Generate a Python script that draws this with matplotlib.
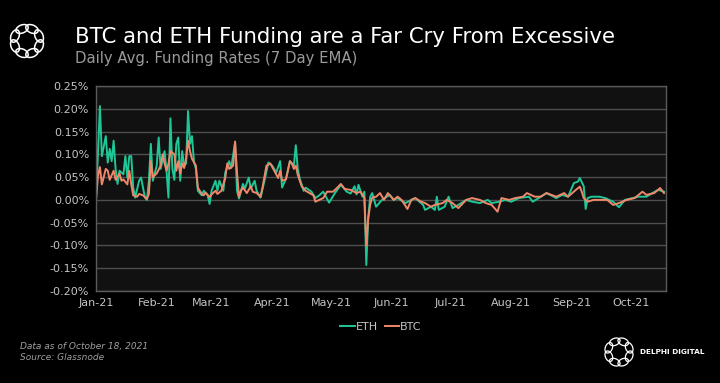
import numpy as np
import pandas as pd
import matplotlib
matplotlib.use("Agg")
import matplotlib.pyplot as plt
import matplotlib.dates as mdates
from matplotlib.patches import Ellipse
from matplotlib.ticker import FuncFormatter

# daily avg funding rate, 7d EMA, in percent
eth_dates = [
    "2021-01-01", "2021-01-03", "2021-01-04", "2021-01-06", "2021-01-07", "2021-01-08",
    "2021-01-09", "2021-01-10", "2021-01-11", "2021-01-12", "2021-01-13", "2021-01-14",
    "2021-01-15", "2021-01-16", "2021-01-17", "2021-01-18", "2021-01-19", "2021-01-20",
    "2021-01-21", "2021-01-23", "2021-01-24", "2021-01-26", "2021-01-27", "2021-01-28",
    "2021-01-29", "2021-01-30", "2021-02-01", "2021-02-02", "2021-02-03", "2021-02-05",
    "2021-02-06", "2021-02-07", "2021-02-08", "2021-02-09", "2021-02-10", "2021-02-11",
    "2021-02-12", "2021-02-13", "2021-02-14", "2021-02-15", "2021-02-16", "2021-02-17",
    "2021-02-18", "2021-02-19", "2021-02-20", "2021-02-21", "2021-02-22", "2021-02-24",
    "2021-02-25", "2021-02-27", "2021-02-28", "2021-03-01", "2021-03-03", "2021-03-04",
    "2021-03-05", "2021-03-07", "2021-03-08", "2021-03-10", "2021-03-11", "2021-03-13",
    "2021-03-14", "2021-03-15", "2021-03-17", "2021-03-18", "2021-03-20", "2021-03-21",
    "2021-03-23", "2021-03-24", "2021-03-26", "2021-03-28", "2021-03-30", "2021-04-01",
    "2021-04-03", "2021-04-05", "2021-04-06", "2021-04-08", "2021-04-10", "2021-04-12",
    "2021-04-13", "2021-04-14", "2021-04-15", "2021-04-17", "2021-04-18", "2021-04-21",
    "2021-04-23", "2021-04-25", "2021-04-27", "2021-04-30", "2021-05-03", "2021-05-06",
    "2021-05-09", "2021-05-11", "2021-05-13", "2021-05-14", "2021-05-15", "2021-05-17",
    "2021-05-18", "2021-05-19", "2021-05-20", "2021-05-21", "2021-05-22", "2021-05-24",
    "2021-05-27", "2021-05-31", "2021-06-02", "2021-06-04", "2021-06-08", "2021-06-11",
    "2021-06-13", "2021-06-17", "2021-06-18", "2021-06-21", "2021-06-23", "2021-06-24",
    "2021-06-25", "2021-06-28", "2021-06-30", "2021-07-02", "2021-07-05", "2021-07-09",
    "2021-07-12", "2021-07-16", "2021-07-20", "2021-07-22", "2021-07-26", "2021-07-29",
    "2021-08-01", "2021-08-05", "2021-08-10", "2021-08-12", "2021-08-15", "2021-08-19",
    "2021-08-24", "2021-08-27", "2021-08-30", "2021-09-02", "2021-09-04", "2021-09-05",
    "2021-09-07", "2021-09-08", "2021-09-09", "2021-09-11", "2021-09-15", "2021-09-18",
    "2021-09-22", "2021-09-25", "2021-09-28", "2021-10-02", "2021-10-05", "2021-10-09",
    "2021-10-12", "2021-10-15", "2021-10-18",
]
eth_rate = [
    0.000, 0.206, 0.096, 0.140, 0.082, 0.112,
    0.085, 0.130, 0.068, 0.035, 0.064, 0.060,
    0.056, 0.096, 0.049, 0.096, 0.096, 0.027,
    0.005, 0.042, 0.049, 0.005, 0.000, 0.042,
    0.123, 0.042, 0.075, 0.137, 0.068, 0.107,
    0.064, 0.005, 0.179, 0.068, 0.044, 0.123,
    0.137, 0.042, 0.107, 0.075, 0.080, 0.195,
    0.123, 0.140, 0.085, 0.068, 0.020, 0.010,
    0.020, 0.010, -0.009, 0.020, 0.042, 0.020,
    0.042, 0.020, 0.060, 0.085, 0.070, 0.126,
    0.020, 0.003, 0.035, 0.025, 0.049, 0.025,
    0.042, 0.020, 0.005, 0.042, 0.082, 0.075,
    0.060, 0.085, 0.027, 0.047, 0.085, 0.075,
    0.120, 0.068, 0.047, 0.020, 0.027, 0.018,
    0.004, 0.010, 0.018, -0.006, 0.015, 0.033,
    0.018, 0.014, 0.030, 0.012, 0.033, 0.007,
    0.018, -0.143, -0.037, 0.007, 0.015, -0.015,
    0.000, 0.011, 0.000, 0.004, -0.007, 0.000,
    0.004, -0.011, -0.022, -0.015, -0.022, 0.007,
    -0.022, -0.015, 0.007, -0.018, -0.011, 0.000,
    -0.004, -0.007, 0.000, -0.007, -0.004, 0.000,
    -0.004, 0.004, 0.007, -0.004, 0.004, 0.015,
    0.004, 0.011, 0.007, 0.037, 0.040, 0.048,
    0.030, -0.020, 0.004, 0.007, 0.007, 0.004,
    -0.004, -0.016, 0.000, 0.004, 0.007, 0.007,
    0.015, 0.022, 0.018,
]

btc_dates = [
    "2021-01-01", "2021-01-02", "2021-01-03", "2021-01-04", "2021-01-06", "2021-01-07",
    "2021-01-08", "2021-01-10", "2021-01-11", "2021-01-13", "2021-01-14", "2021-01-15",
    "2021-01-17", "2021-01-18", "2021-01-19", "2021-01-20", "2021-01-22", "2021-01-23",
    "2021-01-25", "2021-01-27", "2021-01-28", "2021-01-29", "2021-01-30", "2021-02-01",
    "2021-02-03", "2021-02-04", "2021-02-05", "2021-02-06", "2021-02-07", "2021-02-08",
    "2021-02-10", "2021-02-11", "2021-02-12", "2021-02-13", "2021-02-14", "2021-02-15",
    "2021-02-16", "2021-02-17", "2021-02-18", "2021-02-19", "2021-02-21", "2021-02-22",
    "2021-02-24", "2021-02-25", "2021-02-26", "2021-02-28", "2021-03-01", "2021-03-03",
    "2021-03-04", "2021-03-06", "2021-03-08", "2021-03-09", "2021-03-10", "2021-03-12",
    "2021-03-13", "2021-03-14", "2021-03-15", "2021-03-16", "2021-03-17", "2021-03-19",
    "2021-03-21", "2021-03-22", "2021-03-24", "2021-03-26", "2021-03-27", "2021-03-29",
    "2021-03-31", "2021-04-02", "2021-04-04", "2021-04-05", "2021-04-06", "2021-04-08",
    "2021-04-10", "2021-04-11", "2021-04-12", "2021-04-13", "2021-04-14", "2021-04-16",
    "2021-04-18", "2021-04-20", "2021-04-22", "2021-04-23", "2021-04-25", "2021-04-27",
    "2021-04-29", "2021-05-02", "2021-05-04", "2021-05-06", "2021-05-08", "2021-05-11",
    "2021-05-14", "2021-05-16", "2021-05-18", "2021-05-19", "2021-05-20", "2021-05-21",
    "2021-05-22", "2021-05-24", "2021-05-26", "2021-05-28", "2021-05-30", "2021-06-02",
    "2021-06-04", "2021-06-06", "2021-06-09", "2021-06-11", "2021-06-13", "2021-06-16",
    "2021-06-18", "2021-06-21", "2021-06-23", "2021-06-27", "2021-06-29", "2021-07-02",
    "2021-07-05", "2021-07-09", "2021-07-12", "2021-07-16", "2021-07-19", "2021-07-22",
    "2021-07-25", "2021-07-27", "2021-07-31", "2021-08-03", "2021-08-07", "2021-08-09",
    "2021-08-13", "2021-08-16", "2021-08-19", "2021-08-24", "2021-08-28", "2021-08-30",
    "2021-09-03", "2021-09-05", "2021-09-06", "2021-09-07", "2021-09-09", "2021-09-12",
    "2021-09-16", "2021-09-19", "2021-09-22", "2021-09-25", "2021-09-29", "2021-10-03",
    "2021-10-07", "2021-10-09", "2021-10-13", "2021-10-16", "2021-10-18",
]
btc_rate = [
    0.000, 0.053, 0.072, 0.034, 0.068, 0.064,
    0.044, 0.064, 0.044, 0.058, 0.042, 0.045,
    0.034, 0.064, 0.034, 0.010, 0.007, 0.013,
    0.010, 0.002, 0.013, 0.085, 0.050, 0.058,
    0.075, 0.100, 0.080, 0.064, 0.080, 0.107,
    0.100, 0.064, 0.085, 0.058, 0.080, 0.070,
    0.090, 0.130, 0.107, 0.090, 0.075, 0.027,
    0.013, 0.010, 0.016, 0.006, 0.012, 0.020,
    0.013, 0.020, 0.048, 0.080, 0.068, 0.075,
    0.128, 0.060, 0.007, 0.020, 0.027, 0.015,
    0.030, 0.018, 0.015, 0.007, 0.027, 0.075,
    0.080, 0.064, 0.048, 0.064, 0.042, 0.045,
    0.085, 0.080, 0.068, 0.075, 0.055, 0.030,
    0.020, 0.015, 0.010, -0.004, 0.000, 0.004,
    0.018, 0.018, 0.026, 0.035, 0.024, 0.022,
    0.015, 0.018, 0.005, -0.100, -0.040, -0.010,
    0.005, 0.007, 0.015, 0.000, 0.015, 0.000,
    0.007, 0.000, -0.020, 0.000, 0.004, -0.004,
    -0.007, -0.015, -0.011, -0.007, 0.000, -0.007,
    -0.018, 0.000, 0.004, 0.000, -0.007, -0.011,
    -0.026, 0.004, 0.000, 0.004, 0.007, 0.015,
    0.007, 0.007, 0.015, 0.007, 0.015, 0.007,
    0.022, 0.029, 0.018, 0.004, -0.004, 0.000,
    0.000, 0.000, -0.011, -0.007, 0.000, 0.004,
    0.018, 0.011, 0.015, 0.026, 0.015,
]

y_ticks = [-0.20, -0.15, -0.10, -0.05, 0.00, 0.05, 0.10, 0.15, 0.20, 0.25]

eth_color = "#1fc796"
btc_color = "#f0876a"
text_gray = "#c4c4c4"

fig = plt.figure(figsize=(7.2, 3.83), dpi=100, facecolor="black")
ax = fig.add_axes([96 / 720, 1 - 291 / 383, 570 / 720, 205 / 383])
ax.set_facecolor("#111111")

ax.plot(pd.to_datetime(eth_dates), eth_rate, color=eth_color, lw=1.4, label="ETH")
ax.plot(pd.to_datetime(btc_dates), btc_rate, color=btc_color, lw=1.4, label="BTC")

ax.set_ylim(y_ticks[0], y_ticks[-1])
ax.set_yticks(y_ticks)
ax.yaxis.set_major_formatter(FuncFormatter(lambda v, p: f"{v:.2f}%"))
ax.set_xlim(pd.Timestamp("2021-01-01"), pd.Timestamp("2021-10-19"))
ax.xaxis.set_major_locator(mdates.MonthLocator())
ax.xaxis.set_major_formatter(mdates.DateFormatter("%b-%y"))
ax.grid(axis="y", color="#4e4e4e", lw=1)
ax.set_axisbelow(True)
ax.tick_params(length=0, labelsize=8, colors=text_gray, pad=5)
for s in ax.spines.values():
    s.set_color("#5a5a5a")
    s.set_linewidth(1)

leg = ax.legend(loc="upper center", bbox_to_anchor=(0.5, -0.1), ncol=2, frameon=False,
                fontsize=8, handlelength=1.3, handletextpad=0.1, columnspacing=0.6)
for t in leg.get_texts():
    t.set_color(text_gray)

fig.text(75 / 720, 1 - 37 / 383, "BTC and ETH Funding are a Far Cry From Excessive",
         color="white", fontsize=15.3, va="center", ha="left")
fig.text(75 / 720, 1 - 59 / 383, "Daily Avg. Funding Rates (7 Day EMA)",
         color="#9a9a9a", fontsize=10.7, va="center", ha="left")
fig.text(20 / 720, 1 - 346 / 383, "Data as of October 18, 2021", color="#a0a0a0",
         fontsize=6.5, style="italic", va="center")
fig.text(20 / 720, 1 - 357 / 383, "Source: Glassnode", color="#a0a0a0",
         fontsize=6.5, style="italic", va="center")
fig.text(640 / 720, 1 - 352 / 383, "DELPHI DIGITAL", color="white",
         fontsize=5.3, fontweight="bold", va="center", ha="left")

# overlay in pixel space for the logos
ov = fig.add_axes([0, 0, 1, 1], facecolor="none")
ov.set_xlim(0, 720)
ov.set_ylim(383, 0)
ov.axis("off")


def logo(cx, cy, r, w, h, lw):
    for k in range(8):
        a = np.pi / 8 + k * np.pi / 4
        ov.add_patch(Ellipse((cx + r * np.cos(a), cy + r * np.sin(a)), w, h,
                             angle=np.degrees(a) + 90, fill=False, ec="white", lw=lw))


logo(27, 41, 13, 13, 8, 1.1)
logo(619, 352, 11, 11, 7, 0.9)

fig.savefig("out.png", dpi=100, facecolor="black")
